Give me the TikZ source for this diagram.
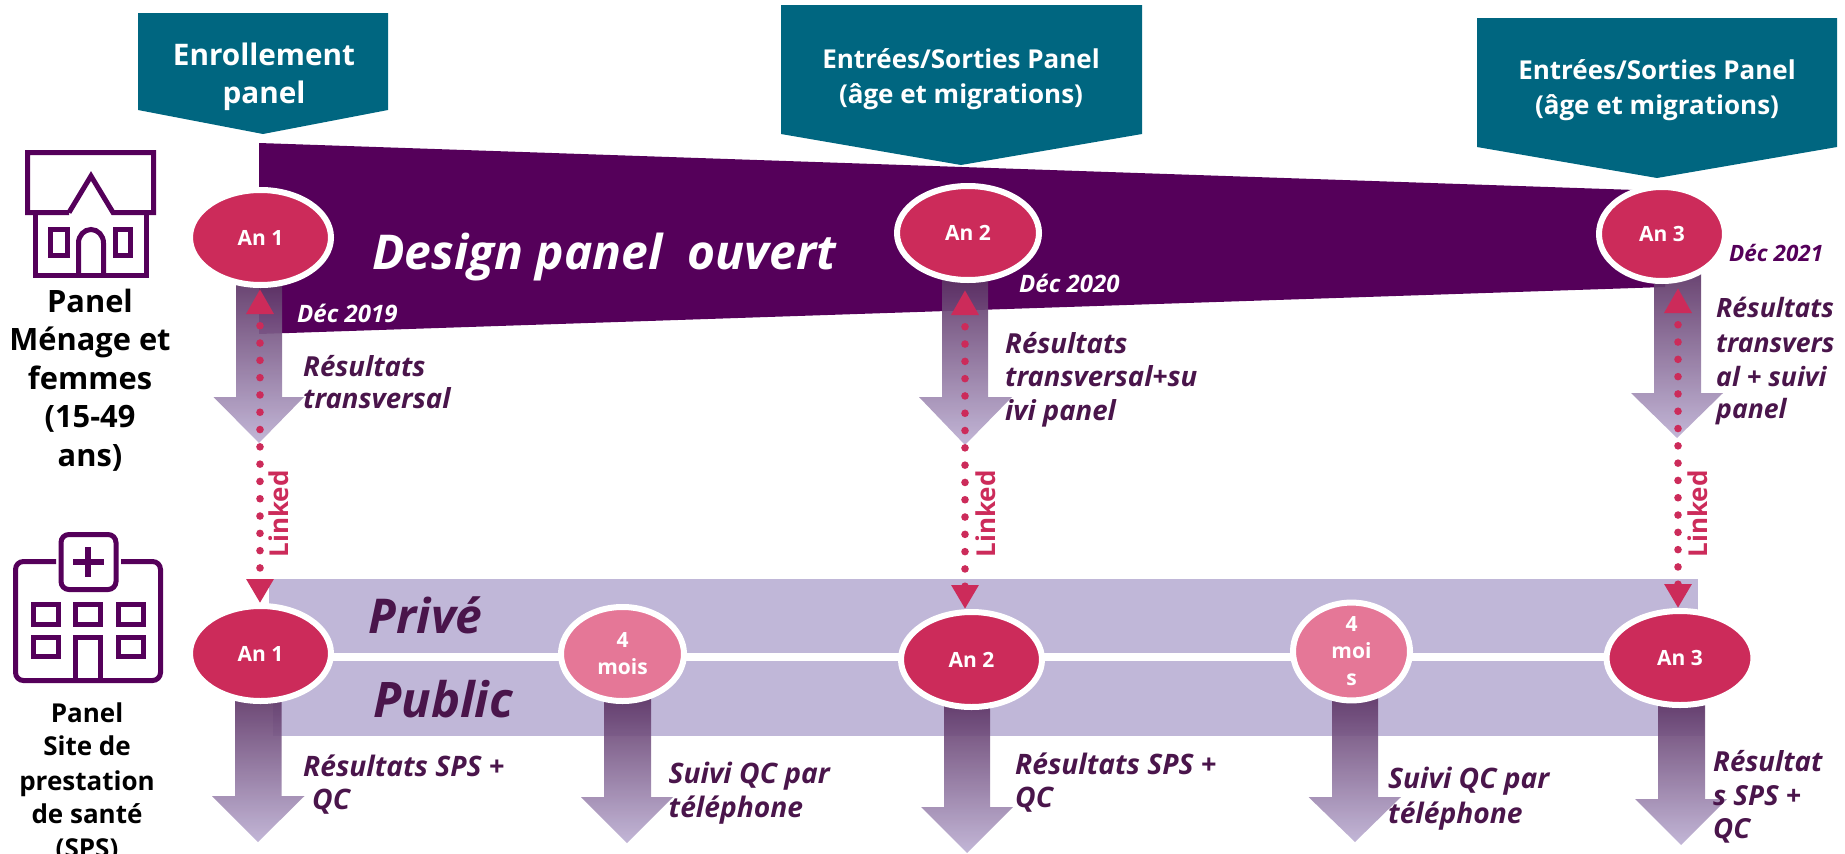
\documentclass[tikz,border=0pt]{standalone}
\usepackage{fontspec}
\setmainfont{Open Sans}
\usetikzlibrary{arrows.meta,shapes.geometric}
\definecolor{tealbox}{HTML}{006680}
\definecolor{plum}{HTML}{55005A}
\definecolor{plumtext}{HTML}{4A154B}
\definecolor{rose}{HTML}{CC2B5A}
\definecolor{pinkish}{HTML}{E57797}
\definecolor{lavender}{HTML}{C0B7D8}
\definecolor{fadetop}{HTML}{5C3364}
\definecolor{fadebot}{HTML}{BDB0D3}
\newcommand{\fsz}[1]{\fontsize{#1}{#1}\selectfont}
\tikzset{
  pentbox/.style={fill=tealbox},
  yearnode/.style={ellipse,draw=white,line width=6pt,fill=rose,text=white,inner sep=0pt,font=\fontsize{21}{27}\selectfont\bfseries},
  moisnode/.style={yearnode,fill=pinkish},
  panelfade/.style={top color=fadetop,bottom color=fadebot,fill opacity=.92},
  linkdots/.style={rose,line width=7.6pt,line cap=round,dash pattern=on 0pt off 17.3pt,dash phase=4pt,{Triangle[length=25pt,width=26pt]}-{Triangle[length=24pt,width=26pt]}},
  note/.style={anchor=base west,inner sep=0pt,align=left,text=plumtext,font=\fsz{27.6}\bfseries\itshape},
  notewide/.style={note,font=\fsz{28.2}\bfseries\itshape},
  notenarrow/.style={note,font=\fsz{26.6}\bfseries\itshape},
  datewhite/.style={anchor=base west,inner sep=0pt,text=white,font=\fsz{24}\bfseries\itshape},
  boxtext/.style={inner sep=0pt,align=center,anchor=base,text=white},
  sidetext/.style={inner sep=0pt,align=center,anchor=base,text=black},
  icon/.style={draw=plum,line width=5pt,miter limit=10},
  linkedtxt/.style={rotate=90,inner sep=0pt,text=rose,font=\fsz{26}\bfseries}
}
\begin{document}
\begin{tikzpicture}[x=1pt,y=-1pt]
  \useasboundingbox (0,0) rectangle (1845,854);
  \clip (0,0) rectangle (1845,854);
  % banners
  \fill[pentbox] (138,13)--(388,13)--(388,110)--(263,134)--(138,110)--cycle;
  \fill[pentbox] (781,5)--(1142,5)--(1142,134)--(961,165)--(781,134)--cycle;
  \fill[pentbox] (1477,18)--(1837,18)--(1837,147)--(1657,178)--(1477,147)--cycle;
  \fill[plum] (259,143)--(1665,191)--(1665,287)--(259,334)--cycle;
  \fill[lavender] (269,579) rectangle (1698,653);
  \fill[lavender] (273,661) rectangle (1704,736);
  % fading arrows
  \foreach \xa/\xb/\xc/\xd/\xm/\ya/\yb/\yc in {
    213.5/236/282/304/259/280/397/443,
    919/942/988/1012/965/278/397/445,
    1631/1654/1701/1723/1677/270/393/438,
    212/235/281.5/304.5/258/692/796/842,
    581/604/651/673/627/696/797/843,
    921/944/990/1013/967/701/807/853,
    1308.5/1332/1378/1401/1355/692/797/842,
    1635/1658/1705/1727/1681/700/799/845}
    \shade[panelfade] (\xb,\ya)--(\xc,\ya)--(\xc,\yb)--(\xd,\yb)--(\xm,\yc)--(\xa,\yb)--(\xb,\yb)--cycle;
  % year nodes
  \node (an1t) [yearnode,minimum width=141pt,minimum height=95pt] at (260.5,237.5) {An 1};
  \node (an2t) [yearnode,minimum width=142pt,minimum height=94pt] at (968,233) {An 2};
  \node (an3t) [yearnode,minimum width=126pt,minimum height=94pt] at (1662,234) {An 3};
  \node (an1b) [yearnode,minimum width=141pt,minimum height=95pt] at (260.5,653.5) {An 1};
  \node (mo1b) [moisnode,minimum width=123pt,minimum height=94pt,align=center] at (622.5,654) {4\\mois};
  \node (an2b) [yearnode,minimum width=141pt,minimum height=95pt] at (971.5,659.5) {An 2};
  \node (mo2b) [moisnode,minimum width=117pt,minimum height=95pt,align=center] at (1351.5,651.5) {4\\moi\\s};
  \node (an3b) [yearnode,minimum width=147pt,minimum height=94pt] at (1680,658) {An 3};
  % linked dots
  \coordinate (lk1a) at (260,289); \coordinate (lk1b) at (260,603);
  \coordinate (lk2a) at (965,290); \coordinate (lk2b) at (965,609);
  \coordinate (lk3a) at (1678,288); \coordinate (lk3b) at (1678,608);
  \draw[linkdots] (lk1a)--(lk1b);
  \draw[linkdots] (lk2a)--(lk2b);
  \draw[linkdots] (lk3a)--(lk3b);
  \node (lktxt1) [linkedtxt] at (279,514) {Linked};
  \node (lktxt2) [linkedtxt] at (986,514) {Linked};
  \node (lktxt3) [linkedtxt] at (1698,514) {Linked};
  % banner text
  \node (enrol) [boxtext,font=\fsz{29.7}\bfseries] at (264,65) {Enrollement};
  \node (enrol2) [boxtext,font=\fsz{29.7}\bfseries] at (264,103) {panel};
  \node (entr1) [boxtext,font=\fsz{26}\bfseries] at (961,68) {Entrées/Sorties Panel};
  \node (entr1b) [boxtext,font=\fsz{26}\bfseries] at (961,103) {(âge et migrations)};
  \node (entr2) [boxtext,font=\fsz{26}\bfseries] at (1657,79) {Entrées/Sorties Panel};
  \node (entr2b) [boxtext,font=\fsz{26}\bfseries] at (1657,114) {(âge et migrations)};
  \node (design) [anchor=base west,inner sep=0pt,text=white,font=\fsz{48}\bfseries\itshape] at (372,269) {Design panel\ \ ouvert};
  \node (prive) [anchor=base west,inner sep=0pt,text=plumtext,font=\fsz{48}\bfseries\itshape] at (368.5,633) {Privé};
  \node (public) [anchor=base west,inner sep=0pt,text=plumtext,font=\fsz{49}\bfseries\itshape] at (373,717) {Public};
  % dates
  \node (dec19) [datewhite] at (297,322) {Déc 2019};
  \node (dec20) [datewhite] at (1019,292) {Déc 2020};
  \node (dec21) [datewhite,text=plum,font=\fsz{22.5}\bfseries\itshape] at (1729,261) {Déc 2021};
  % notes
  \node (res1) [note] at (303,376) {Résultats};
  \node (res1b) [note] at (303,408) {transversal};
  \node (res2) [note] at (1005,353) {Résultats};
  \node (res2b) [note] at (1005,386) {transversal+su};
  \node (res2c) [note] at (1005,420) {ivi panel};
  \node (res3) [notenarrow] at (1716,317) {Résultats};
  \node (res3b) [notenarrow] at (1716,352) {transvers};
  \node (res3c) [notenarrow] at (1716,386) {al + suivi};
  \node (res3d) [notenarrow] at (1716,418) {panel};
  \node (sps1) [notewide] at (303,776) {Résultats SPS +};
  \node (sps1b) [notewide] at (312,809) {QC};
  \node (qc1) [notewide] at (668.5,783) {Suivi QC par};
  \node (qc1b) [notewide] at (668.5,817) {téléphone};
  \node (sps2) [notewide] at (1015,774) {Résultats SPS +};
  \node (sps2b) [notewide] at (1015,807) {QC};
  \node (qc2) [notewide] at (1388,788) {Suivi QC par};
  \node (qc2b) [notewide] at (1388,823) {téléphone};
  \node (sps3) [note] at (1713,771) {Résultat};
  \node (sps3b) [note] at (1713,805) {s SPS +};
  \node (sps3c) [note] at (1713,838) {QC};
  % side labels
  \foreach \txt/\yy [count=\i] in {Panel/312,Ménage et/350,femmes/389,{(15-49}/427,{ans)}/466}
    \node (hh\i) [sidetext,font=\fsz{30.8}\bfseries] at (90,\yy) {\txt};
  \foreach \txt/\yy [count=\i] in {Panel/722,Site de/755,prestation/790,de santé/823,{(SPS)}/857}
    \node (sp\i) [sidetext,font=\fsz{26}\bfseries] at (87,\yy) {\txt};
  % house icon
  \draw[icon] (69,212.5)--(27.5,212.5)--(27.5,152.5)--(153.5,152.5)--(153.5,212.5)--(113,212.5)--(91,176)--(69,212.5);
  \draw[icon] (35.5,215)--(35.5,275)--(146,275)--(146,215);
  \draw[icon] (50,229) rectangle (67,255);
  \draw[icon] (115,229) rectangle (130,255);
  \draw[icon] (78.5,275)--(78.5,243) arc[start angle=180,end angle=360,x radius=12.5,y radius=13.5]--(103.5,275);
  % hospital icon
  \draw[icon,rounded corners=8pt] (61,534.5) rectangle (116,589.5);
  \draw[icon,line width=5.5pt] (73,562)--(104,562) (88,547)--(88,577);
  \draw[icon,rounded corners=8pt] (56,561.5)--(15.5,561.5)--(15.5,680.5)--(160.5,680.5)--(160.5,561.5)--(121,561.5);
  \draw[icon] (33.5,604.5) rectangle (58.5,624.5);
  \draw[icon] (75.5,604.5) rectangle (100.5,624.5);
  \draw[icon] (118,604.5) rectangle (143,624.5);
  \draw[icon] (33.5,637.5) rectangle (58.5,656.5);
  \draw[icon] (118,637.5) rectangle (143,656.5);
  \draw[icon] (75.5,680.5)--(75.5,637.5)--(100.5,637.5)--(100.5,680.5);
\end{tikzpicture}
\end{document}
